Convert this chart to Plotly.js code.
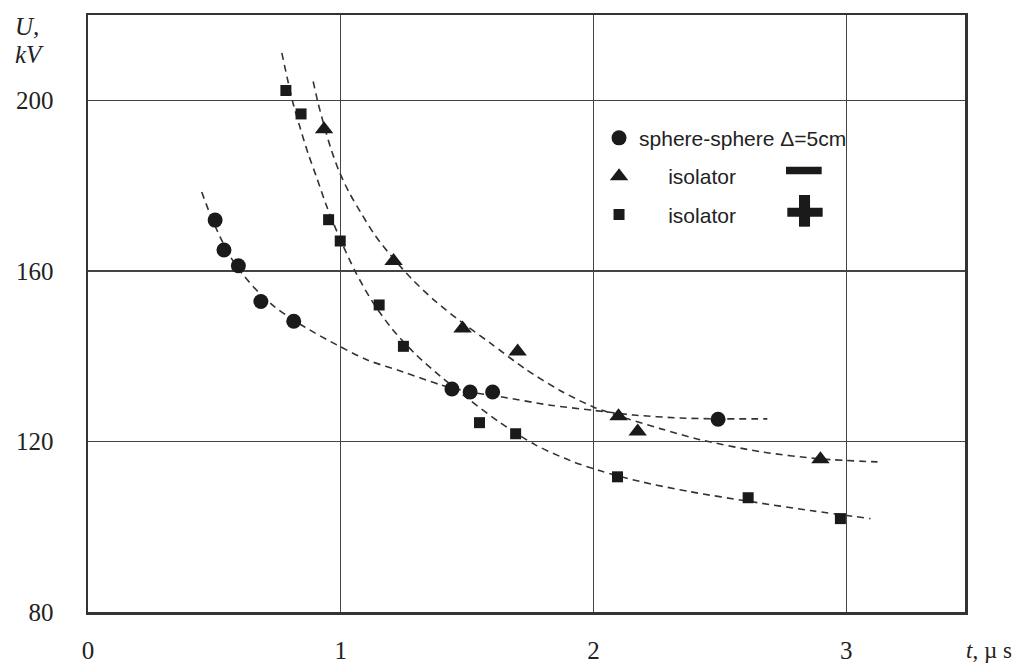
<!DOCTYPE html>
<html>
<head>
<meta charset="utf-8">
<script src="https://cdn.plot.ly/plotly-3.0.1.min.js"></script>
<style>html,body{margin:0;padding:0;background:#fff;}#chart{width:1017px;height:664px;}</style>
</head>
<body>
<div id="chart"></div>
<script>
// ---- data ----
// measured points
var sphereT = [0.503, 0.538, 0.595, 0.684, 0.814, 1.440, 1.512, 1.601, 2.493];
var sphereU = [171.9, 164.9, 161.2, 152.8, 148.2, 132.3, 131.6, 131.6, 125.2];

var isoMinusT = [0.934, 1.209, 1.482, 1.700, 2.099, 2.175, 2.898];
var isoMinusU = [193.2, 162.3, 146.5, 141.1, 125.9, 122.3, 115.8];

var isoPlusT = [0.783, 0.843, 0.952, 0.998, 1.152, 1.248, 1.549, 1.692, 2.095, 2.612, 2.977];
var isoPlusU = [202.3, 196.8, 172.0, 167.0, 152.0, 142.3, 124.4, 121.8, 111.7, 106.8, 101.9];

// dashed approximation curves
var sphereFitT = [0.450, 0.483, 0.523, 0.570, 0.622, 0.681, 0.740, 0.812, 0.899, 0.986, 1.105, 1.247, 1.394, 1.512, 1.631, 1.829, 1.999, 2.158, 2.344, 2.490, 2.688];
var sphereFitU = [178.5, 173.3, 167.9, 162.7, 158.5, 154.6, 151.5, 148.5, 145.4, 142.6, 139.1, 136.3, 133.3, 131.6, 130.5, 128.5, 127.3, 126.2, 125.5, 125.3, 125.3];

var isoMinusFitT = [0.891, 0.911, 0.934, 0.962, 0.994, 1.033, 1.081, 1.136, 1.204, 1.283, 1.374, 1.473, 1.591, 1.730, 1.869, 1.999, 2.126, 2.264, 2.423, 2.660, 2.898, 3.124];
var isoMinusFitU = [204.4, 199.2, 194.1, 188.5, 183.3, 178.4, 173.5, 168.3, 163.2, 158.0, 152.9, 148.2, 143.1, 137.0, 131.9, 128.1, 125.5, 123.0, 120.4, 117.6, 115.9, 115.2];

var isoPlusFitT = [0.767, 0.788, 0.812, 0.839, 0.871, 0.907, 0.946, 0.998, 1.057, 1.124, 1.203, 1.295, 1.394, 1.504, 1.631, 1.770, 1.908, 2.027, 2.185, 2.383, 2.621, 2.858, 3.096];
var isoPlusFitU = [211.1, 205.3, 199.2, 193.6, 187.5, 181.5, 174.9, 167.4, 159.9, 152.9, 146.4, 140.5, 135.3, 130.0, 124.4, 119.2, 115.5, 113.1, 110.6, 108.2, 105.9, 103.8, 101.9];

// ticks and labels
var xTicks = [0, 1, 2, 3];
var xTickText = ['0', '1', '2', '3'];
var yTicks = [80, 120, 160, 200];
var yTickText = ['80', '120', '160', '200'];

var seriesNames = ['sphere-sphere \u0394=5cm', '\u00a0\u00a0\u00a0\u00a0\u00a0isolator', '\u00a0\u00a0\u00a0\u00a0\u00a0isolator'];

// ---- drawing ----
var markColor = '#1a1a1a';
var dashStyle = {color: '#333', width: 1.6, dash: '7px,5px', shape: 'spline', smoothing: 0.8};

var traces = [
  {x: sphereFitT, y: sphereFitU, mode: 'lines', line: dashStyle, showlegend: false, hoverinfo: 'skip'},
  {x: isoMinusFitT, y: isoMinusFitU, mode: 'lines', line: dashStyle, showlegend: false, hoverinfo: 'skip'},
  {x: isoPlusFitT, y: isoPlusFitU, mode: 'lines', line: dashStyle, showlegend: false, hoverinfo: 'skip'},
  {x: sphereT, y: sphereU, mode: 'markers', name: seriesNames[0], legendgroup: 'a',
   marker: {symbol: 'circle', size: 15, color: markColor}},
  {x: isoMinusT, y: isoMinusU, mode: 'markers', name: seriesNames[1], legendgroup: 'b',
   marker: {symbol: 'triangle-up', size: 16, color: markColor}},
  {x: isoPlusT, y: isoPlusU, mode: 'markers', name: seriesNames[2], legendgroup: 'c',
   marker: {symbol: 'square', size: 11, color: markColor}}
];

var serif = 'Liberation Serif, Times New Roman, serif';
var sans = 'Liberation Sans, Arial, sans-serif';

var layout = {
  width: 1017, height: 664,
  margin: {l: 88, r: 52, t: 15, b: 52},
  paper_bgcolor: '#fff', plot_bgcolor: '#fff',
  xaxis: {
    range: [0, 3.47], tickvals: xTicks, ticktext: xTickText,
    showgrid: true, gridcolor: '#444', gridwidth: 1.3,
    zeroline: false, showline: true, mirror: true, linecolor: '#333', linewidth: 2.5,
    ticks: '', ticklabelstandoff: 14,
    tickfont: {family: serif, size: 25, color: '#222'}
  },
  yaxis: {
    range: [80, 220], tickvals: yTicks, ticktext: yTickText,
    showgrid: true, gridcolor: '#444', gridwidth: 1.3,
    zeroline: false, showline: true, mirror: true, linecolor: '#333', linewidth: 2.5,
    ticks: '', ticklabelstandoff: 27,
    tickfont: {family: serif, size: 25, color: '#222'}
  },
  showlegend: true,
  legend: {
    x: 0.5827, y: 0.828, xanchor: 'left', yanchor: 'top',
    bgcolor: 'rgba(0,0,0,0)', borderwidth: 0,
    font: {family: sans, size: 21, color: '#222'},
    tracegroupgap: 8, itemwidth: 30
  },
  annotations: [
    {xref: 'paper', yref: 'paper', x: -0.0855, y: 0.98, xanchor: 'left', yanchor: 'middle',
     text: '<i>U,</i>', showarrow: false, font: {family: serif, size: 25, color: '#222'}},
    {xref: 'paper', yref: 'paper', x: -0.0855, y: 0.933, xanchor: 'left', yanchor: 'middle',
     text: '<i>kV</i>', showarrow: false, font: {family: serif, size: 25, color: '#222'}},
    {xref: 'paper', yref: 'paper', x: 1.0547, y: -0.0865, xanchor: 'right', yanchor: 'bottom',
     text: '<i>t</i>,\u00a0\u00b5\u00a0s', showarrow: false, borderpad: 0,
     font: {family: serif, size: 23, color: '#222'}}
  ],
  shapes: [
    {type: 'rect', xref: 'paper', yref: 'paper', x0: 0.7959, x1: 0.8366, y0: 0.7332, y1: 0.7459,
     fillcolor: markColor, line: {width: 0}},
    {type: 'rect', xref: 'paper', yref: 'paper', x0: 0.7974, x1: 0.8377, y0: 0.6621, y1: 0.6772,
     fillcolor: markColor, line: {width: 0}},
    {type: 'rect', xref: 'paper', yref: 'paper', x0: 0.8107, x1: 0.8233, y0: 0.6454, y1: 0.6985,
     fillcolor: markColor, line: {width: 0}}
  ]
};

Plotly.newPlot('chart', traces, layout, {displayModeBar: false, staticPlot: true});
</script>
</body>
</html>
